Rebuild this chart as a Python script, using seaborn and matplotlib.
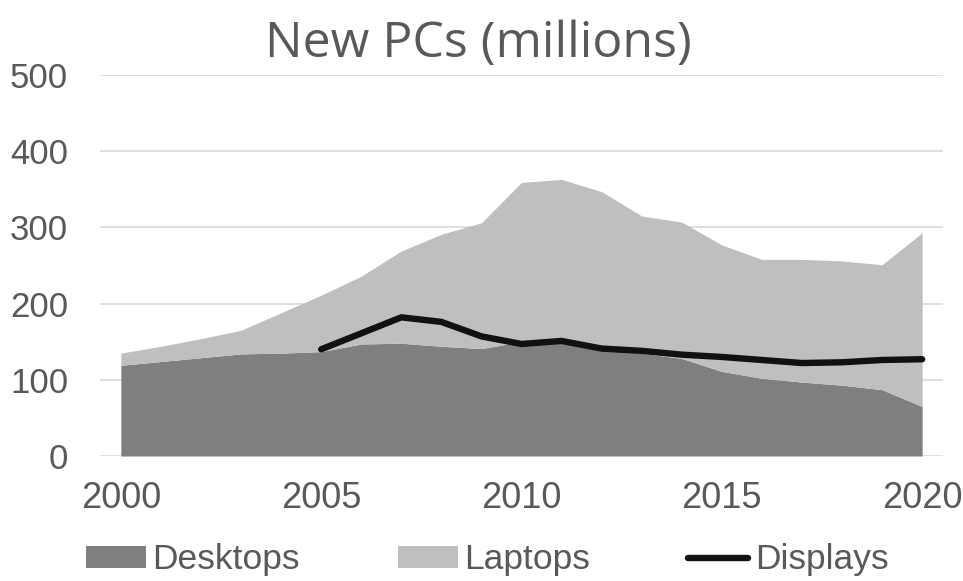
import matplotlib
matplotlib.use("Agg")
import matplotlib.pyplot as plt
import numpy as np
import pandas as pd
import seaborn as sns
from matplotlib.patches import Patch
from matplotlib.lines import Line2D

# Annual shipments, millions of units
years = list(range(2000, 2021))
desktops = [119, 124, 129, 134, 135, 137, 147, 148, 144, 141, 150,
            148, 139, 135, 128, 111, 102, 97, 93, 87, 65]
laptops = [16, 20, 25, 31, 53, 74, 89, 121, 147, 165, 209,
           215, 208, 180, 179, 166, 156, 161, 163, 164, 228]
display_years = list(range(2005, 2021))
displays = [140, 161, 182, 176, 157, 147, 151, 141, 138, 133, 130,
            126, 122, 123, 126, 127]

x_ticks = [2000, 2005, 2010, 2015, 2020]
y_ticks = [0, 100, 200, 300, 400, 500]

sns.set_theme(style="white")
plt.rcParams["font.family"] = ["Liberation Sans", "DejaVu Sans"]

text_color = "#595959"
dark_gray = "#7f7f7f"
light_gray = "#bfbfbf"

fig = plt.figure(figsize=(9.63, 5.81), dpi=100)
ax = fig.add_axes([100 / 963, 1 - 456 / 581, 843 / 963, 381 / 581])

ax.stackplot(years, desktops, laptops, colors=[dark_gray, light_gray],
             linewidth=0, zorder=2)

disp_df = pd.DataFrame({"year": display_years, "units": displays})
sns.lineplot(data=disp_df, x="year", y="units", ax=ax, color="#111111",
             linewidth=4.6, solid_capstyle="round", zorder=3)

ax.set_xlim(1999.48, 2020.52)
ax.set_ylim(0, 500)
ax.set_xticks(x_ticks)
ax.set_yticks(y_ticks)
ax.set_xlabel("")
ax.set_ylabel("")
ax.grid(axis="y", color="#d9d9d9", linewidth=1.2, zorder=0)
ax.grid(axis="x", visible=False)
ax.set_axisbelow(True)
for s in ax.spines.values():
    s.set_visible(False)
ax.tick_params(axis="y", length=0, labelsize=25, colors=text_color, pad=23)
ax.tick_params(axis="x", length=0, labelsize=26, colors=text_color, pad=18)

fig.text(0.4965, 1 - 57 / 581, "New PCs (millions)", ha="center",
         va="baseline", fontsize=36, color=text_color,
         family=["Open Sans", "DejaVu Sans"])

handles = [Patch(facecolor=dark_gray, edgecolor="none"),
           Patch(facecolor=light_gray, edgecolor="none"),
           Line2D([0], [0], color="#111111", linewidth=4.6,
                  solid_capstyle="round")]
leg = fig.legend(handles, ["Desktops", "Laptops", "Displays"], ncol=3,
                 loc="center", bbox_to_anchor=(0.5057, 1 - 560 / 581),
                 frameon=False, fontsize=25.5, handlelength=1.7,
                 handleheight=0.6, handletextpad=0.18, columnspacing=2.77,
                 borderaxespad=0)
for t in leg.get_texts():
    t.set_color(text_color)

fig.savefig("out.png", dpi=100)
